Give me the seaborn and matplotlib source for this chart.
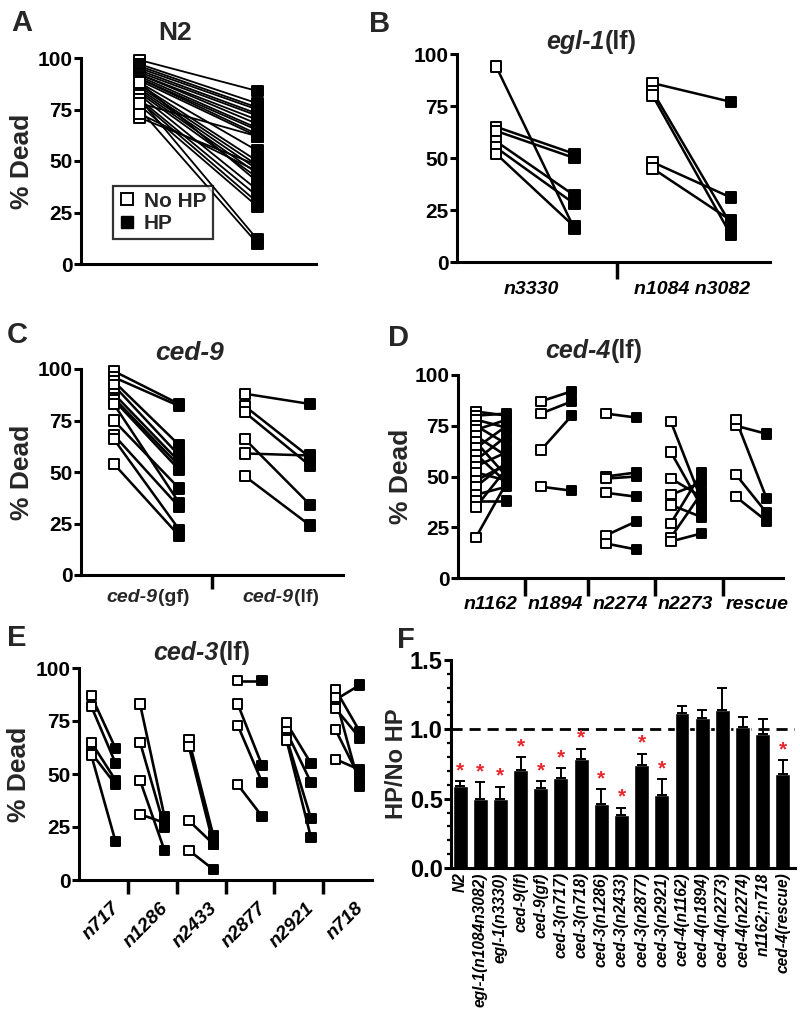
import numpy as np
import pandas as pd
import matplotlib
matplotlib.use("Agg")
import matplotlib.pyplot as plt
from matplotlib.lines import Line2D
from matplotlib.offsetbox import TextArea, HPacker, AnnotationBbox
import seaborn as sns

# ---------------- data ----------------
# A: N2, one line per experiment
n2_nohp = [99, 97, 96, 95, 94, 93, 92, 92, 91, 90, 90, 89, 88, 87, 86, 85, 84, 83,
           88, 82, 80, 79, 77, 80, 75, 71, 73, 78]
n2_hp = [84, 78, 76, 75, 73, 72, 70, 68, 66, 65, 63, 62, 55, 50, 48, 46, 44, 42,
         40, 36, 33, 30, 28, 12, 10, 48, 45, 62]

# B: egl-1(lf)
egl_groups = ["n3330", "n1084 n3082"]
egl_nohp = [[94, 65, 63, 58, 55, 52], [86, 82, 80, 48, 45]]
egl_hp = [[16, 52, 50, 32, 28, 17], [77, 18, 13, 31, 20]]

# C: ced-9
ced9_groups = ["gf", "lf"]
ced9_nohp = [[99, 96, 94, 92, 88, 86, 85, 83, 75, 68, 66, 54],
             [88, 82, 79, 59, 66, 48]]
ced9_hp = [[83, 82, 63, 58, 55, 53, 51, 35, 42, 33, 22, 19],
           [83, 57, 53, 58, 34, 24]]

# D: ced-4(lf)
ced4_groups = ["n1162", "n1894", "n2274", "n2273", "rescue"]
ced4_nohp = [[82, 80, 78, 75, 73, 70, 67, 64, 61, 58, 55, 52, 48, 45, 41, 38, 35, 20],
             [87, 81, 63, 45],
             [81, 50, 49, 42, 21, 17],
             [77, 62, 49, 41, 36, 27, 20, 18],
             [75, 78, 51, 40]]
ced4_hp = [[80, 81, 74, 66, 78, 60, 50, 75, 47, 70, 62, 48, 56, 57, 45, 38, 54, 47],
           [92, 87, 80, 43],
           [79, 52, 50, 40, 28, 14],
           [38, 35, 40, 47, 30, 52, 42, 22],
           [71, 39, 32, 28]]

# E: ced-3(lf)
ced3_groups = ["n717", "n1286", "n2433", "n2877", "n2921", "n718"]
ced3_nohp = [[87, 82, 65, 60, 59],
             [83, 65, 47, 31],
             [66, 63, 28, 14],
             [94, 83, 73, 45],
             [74, 70, 67, 66],
             [85, 90, 81, 71, 57, 86]]
ced3_hp = [[62, 55, 47, 45, 18],
           [30, 25, 14, 27],
           [21, 17, 17, 5],
           [94, 54, 46, 30],
           [55, 46, 29, 20],
           [92, 70, 67, 48, 52, 44]]

# F: HP / No HP ratio (mean and top of error bar)
f_strains = ["N2", "egl-1(n1084n3082)", "egl-1(n3330)", "ced-9(lf)", "ced-9(gf)",
             "ced-3(n717)", "ced-3(n718)", "ced-3(n1286)", "ced-3(n2433)",
             "ced-3(n2877)", "ced-3(n2921)", "ced-4(n1162)", "ced-4(n1894)",
             "ced-4(n2273)", "ced-4(n2274)", "n1162;n718", "ced-4(rescue)"]
f_ratio = [0.59, 0.50, 0.50, 0.71, 0.58, 0.65, 0.785, 0.46, 0.38, 0.74, 0.53,
           1.115, 1.08, 1.14, 1.02, 0.965, 0.68]
f_err_top = [0.627, 0.62, 0.586, 0.80, 0.627, 0.72, 0.86, 0.567, 0.435, 0.825, 0.64,
             1.17, 1.136, 1.30, 1.09, 1.077, 0.78]
f_signif = [True] * 11 + [False] * 5 + [True]

# ---------------- style ----------------
sns.set_theme(style="ticks")
plt.rcParams["font.family"] = ["Liberation Sans", "DejaVu Sans"]
plt.rcParams["font.weight"] = "bold"
plt.rcParams["axes.labelweight"] = "bold"
plt.rcParams["axes.linewidth"] = 2.2
plt.rcParams["xtick.major.width"] = 2.2
plt.rcParams["ytick.major.width"] = 2.2
plt.rcParams["ytick.major.size"] = 5
plt.rcParams["xtick.color"] = "black"
plt.rcParams["ytick.color"] = "black"
plt.rcParams["axes.edgecolor"] = "black"

W, H = 800, 1016
fig = plt.figure(figsize=(W / 100, H / 100), dpi=100)

TICK = 15
XLAB = 14


def add_axes(left, right, top, bottom):
    return fig.add_axes([left / W, 1 - bottom / H, (right - left) / W, (bottom - top) / H])


def pairs_df(groups, nohp, hp, step, off):
    rows = []
    for gi, (g, a, b) in enumerate(zip(groups, nohp, hp)):
        for k, (u, v) in enumerate(zip(a, b)):
            rows.append(dict(pair=f"{g}_{k}", cond="No HP", x=gi * step + off[0], val=u))
            rows.append(dict(pair=f"{g}_{k}", cond="HP", x=gi * step + off[1], val=v))
    return pd.DataFrame(rows)


def paired(ax, df, lw=1.6, s=55):
    sns.lineplot(data=df, x="x", y="val", units="pair", estimator=None, color="black",
                 lw=lw, ax=ax, legend=False, sort=False)
    sns.scatterplot(data=df, x="x", y="val", hue="cond",
                    palette={"No HP": "white", "HP": "black"}, marker="s", s=s,
                    edgecolor="black", linewidth=1.4, ax=ax, legend=False,
                    zorder=3, clip_on=False)
    ax.set_ylim(0, 100)
    ax.set_yticks([0, 25, 50, 75, 100])
    ax.tick_params(axis="y", labelsize=TICK, pad=1)
    ax.set_ylabel("% Dead", fontsize=19, labelpad=3)
    ax.set_xlabel("")
    sns.despine(ax=ax)


def mixed(ax, x, y, parts, size, xycoords):
    boxes = [TextArea(t, textprops=dict(fontsize=size, fontweight="bold",
                                        fontstyle="italic" if it else "normal"))
             for t, it in parts]
    pack = HPacker(children=boxes, pad=0, sep=0, align="baseline")
    ab = AnnotationBbox(pack, (x, y), xycoords=xycoords, frameon=False,
                        box_alignment=(0.5, 0.5), annotation_clip=False)
    ax.add_artist(ab)


def separators(ax, pos, length=11):
    ax.set_xticks(pos, minor=True)
    ax.tick_params(axis="x", which="minor", length=length, width=2.5, direction="out")
    ax.tick_params(axis="x", which="major", length=0)


# ---------------- A ----------------
axA = add_axes(81, 316, 58, 264)
dfA = pairs_df(["N2"], [n2_nohp], [n2_hp], 2, (0, 1))
paired(axA, dfA, lw=1.3, s=60)
axA.set_xlim(-0.5, 1.5)
axA.set_xticks([])
axA.text(0.40, 1.12, "N2", transform=axA.transAxes, ha="center", va="center",
         fontsize=19, fontweight="bold")
handles = [Line2D([], [], marker="s", ls="", mfc="white", mec="black", mew=1.4, ms=8),
           Line2D([], [], marker="s", ls="", mfc="black", mec="black", ms=8)]
leg = axA.legend(handles, ["No HP", "HP"], loc="lower left",
                 bbox_to_anchor=(0.09, 0.07), frameon=True, fancybox=False,
                 edgecolor="black", handlelength=0.8, handletextpad=0.4,
                 borderpad=0.3, labelspacing=0.15, prop=dict(size=15, weight="bold"))
leg.get_frame().set_linewidth(1.6)

# ---------------- B ----------------
axB = add_axes(457, 770, 54, 262)
dfB = pairs_df(egl_groups, egl_nohp, egl_hp, 2, (0, 1))
paired(axB, dfB, lw=1.8, s=55)
axB.set_xlim(-0.5, 3.5)
axB.set_xticks([0.45, 2.5])
axB.set_xticklabels(egl_groups, fontsize=XLAB, fontstyle="italic", fontweight="bold")
separators(axB, [1.55], 12)
axB.tick_params(axis="x", which="major", pad=14)
axB.set_ylabel("")
mixed(axB, 0.43, 1.06, [("egl-1", True), ("(lf)", False)], 18, "axes fraction")

# ---------------- C ----------------
axC = add_axes(81, 343, 369, 575)
dfC = pairs_df(ced9_groups, ced9_nohp, ced9_hp, 2, (0, 1))
paired(axC, dfC, lw=1.8, s=55)
axC.set_xlim(-0.5, 3.5)
axC.set_xticks([0.5, 2.5])
axC.set_xticklabels([])
separators(axC, [1.5], 10)
mixed(axC, 0.52, -0.107, [("ced-9", True), ("(gf)", False)], XLAB, ("data", "axes fraction"))
mixed(axC, 2.55, -0.107, [("ced-9", True), ("(lf)", False)], XLAB, ("data", "axes fraction"))
mixed(axC, 0.416, 1.078, [("ced-9", True)], 19, "axes fraction")

# ---------------- D ----------------
axD = add_axes(458, 783, 375, 578)
dfD = pairs_df(ced4_groups, ced4_nohp, ced4_hp, 2, (0.55, 1.5))
paired(axD, dfD, lw=1.9, s=45)
axD.set_xlim(0, 10)
axD.set_xticks([1, 3, 5, 7, 9.2])
axD.set_xticklabels(ced4_groups, fontsize=XLAB, fontstyle="italic", fontweight="bold")
separators(axD, [2.05, 4, 6.05, 8.15], 13)
axD.tick_params(axis="x", which="major", pad=13)
axD.set_ylabel("% Dead", fontsize=19, labelpad=1)
mixed(axD, 0.418, 1.12, [("ced-4", True), ("(lf)", False)], 18, "axes fraction")

# ---------------- E ----------------
axE = add_axes(79, 372, 668, 880)
dfE = pairs_df(ced3_groups, ced3_nohp, ced3_hp, 2, (0.5, 1.5))
paired(axE, dfE, lw=1.9, s=45)
axE.set_xlim(0, 12)
axE.set_xticks([1.3, 3.3, 5.3, 7.3, 9.3, 11.3])
axE.set_xticklabels(ced3_groups, fontsize=XLAB, fontstyle="italic", fontweight="bold",
                    rotation=45, ha="right", rotation_mode="anchor")
separators(axE, [2, 4, 6, 8, 10], 10)
axE.tick_params(axis="x", which="major", pad=14)
mixed(axE, 0.42, 1.07, [("ced-3", True), ("(lf)", False)], 18, "axes fraction")

# ---------------- F ----------------
axF = add_axes(451, 795, 660, 868)
dfF = pd.DataFrame(dict(strain=f_strains, ratio=f_ratio, top=f_err_top))
sns.barplot(data=dfF, x="strain", y="ratio", color="black", saturation=1, width=0.74,
            ax=axF)
n = len(f_strains)
xs = np.arange(n)
ratio = np.array(f_ratio)
top = np.array(f_err_top)
axF.errorbar(xs, ratio, yerr=[np.zeros(n), top - ratio], fmt="none", ecolor="black",
             elinewidth=1.4, capsize=3.5, capthick=1.4)
axF.axhline(1.0, color="black", ls=(0, (4, 2.5)), lw=2, zorder=0.5)
for i in xs:
    if f_signif[i]:
        axF.text(i, top[i] + 0.075, "*", color="#e8262c", ha="center", va="center",
                 fontsize=15, fontweight="bold")
axF.set_xlim(-0.45, n - 0.4)
axF.set_ylim(0, 1.5)
axF.set_yticks([0, 0.5, 1.0, 1.5])
axF.set_yticklabels(["0.0", "0.5", "1.0", "1.5"])
axF.set_yticks(np.arange(0, 1.51, 0.1), minor=True)
axF.tick_params(axis="y", which="minor", length=3, width=1.6)
axF.tick_params(axis="y", labelsize=17, pad=1)
axF.tick_params(axis="x", length=0, pad=3)
axF.set_xticks(xs)
axF.set_xticklabels(f_strains, rotation=90, fontsize=11.2, fontstyle="italic",
                    fontweight="bold")
axF.set_xlabel("")
axF.set_ylabel("HP/No HP", fontsize=17, labelpad=1)
sns.despine(ax=axF)

# ---------------- panel letters ----------------
for lab, (px, py) in {"A": (22, 23), "B": (380, 24), "C": (17, 335), "D": (398, 338),
                      "E": (17, 638), "F": (406, 640)}.items():
    fig.text(px / W, 1 - py / H, lab, ha="center", va="center", fontsize=21,
             fontweight="bold")

fig.savefig("out.png", dpi=100)
